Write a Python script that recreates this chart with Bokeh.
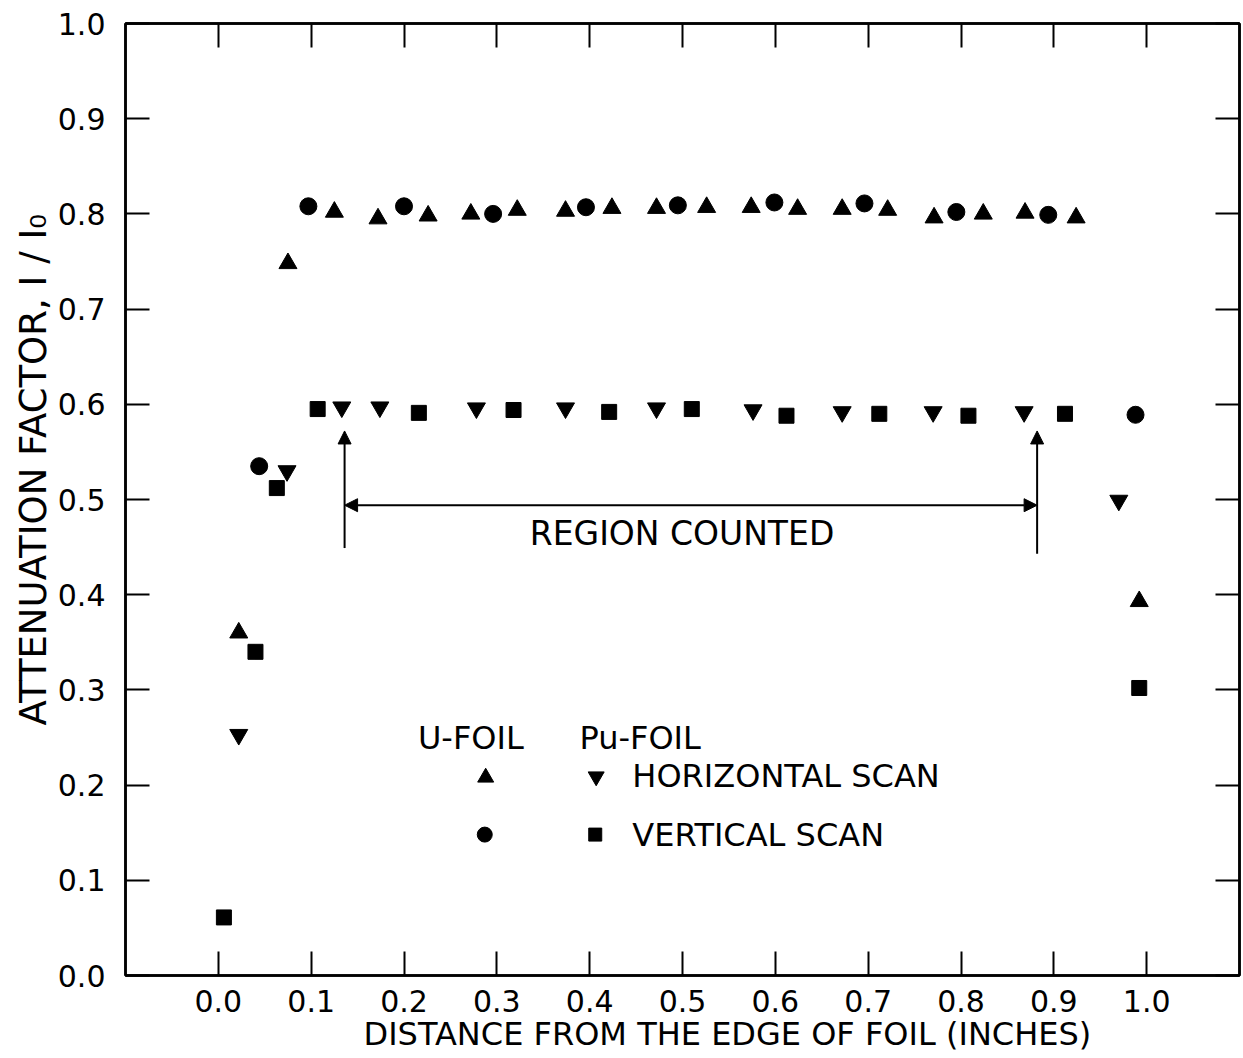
from bokeh.plotting import figure
from bokeh.models import Range1d, LinearAxis, FixedTicker, Label, Arrow, NormalHead, Title
from bokeh.embed import file_html
from bokeh.resources import INLINE

# ---------------- data ----------------
# U-foil, horizontal scan (up triangles)
u_horiz_x = [0.022, 0.075, 0.125, 0.172, 0.226, 0.272, 0.322, 0.374, 0.424, 0.472,
             0.526, 0.574, 0.624, 0.672, 0.721, 0.771, 0.824, 0.869, 0.924, 0.992]
u_horiz_y = [0.360, 0.748, 0.802, 0.795, 0.798, 0.800, 0.804, 0.803, 0.806, 0.806,
             0.807, 0.807, 0.805, 0.805, 0.804, 0.796, 0.800, 0.801, 0.796, 0.393]
# U-foil, vertical scan (circles)
u_vert_x = [0.044, 0.097, 0.200, 0.296, 0.396, 0.495, 0.599, 0.696, 0.795, 0.894, 0.988]
u_vert_y = [0.535, 0.808, 0.808, 0.800, 0.807, 0.809, 0.812, 0.811, 0.802, 0.799, 0.589]
# Pu-foil, horizontal scan (down triangles)
pu_horiz_x = [0.022, 0.074, 0.133, 0.174, 0.278, 0.374, 0.472, 0.576, 0.672, 0.770, 0.868, 0.970]
pu_horiz_y = [0.253, 0.530, 0.597, 0.597, 0.596, 0.596, 0.596, 0.594, 0.592, 0.592, 0.592, 0.499]
# Pu-foil, vertical scan (squares)
pu_vert_x = [0.006, 0.040, 0.063, 0.107, 0.216, 0.318, 0.421, 0.510, 0.612, 0.712, 0.808, 0.912, 0.992]
pu_vert_y = [0.061, 0.340, 0.512, 0.595, 0.591, 0.594, 0.592, 0.595, 0.588, 0.590, 0.588, 0.590, 0.302]

x_ticks = [0.0, 0.1, 0.2, 0.3, 0.4, 0.5, 0.6, 0.7, 0.8, 0.9, 1.0]
x_tick_labels = ["0.0", "0.1", "0.2", "0.3", "0.4", "0.5", "0.6", "0.7", "0.8", "0.9", "1.0"]
y_ticks = [0.0, 0.1, 0.2, 0.3, 0.4, 0.5, 0.6, 0.7, 0.8, 0.9, 1.0]
y_tick_labels = ["0.0", "0.1", "0.2", "0.3", "0.4", "0.5", "0.6", "0.7", "0.8", "0.9", "1.0"]

x_title = "DISTANCE FROM THE EDGE OF FOIL (INCHES)"
y_title = "ATTENUATION FACTOR, I / I\u2080"

region_left = 0.136
region_right = 0.882

FONT = "DejaVu Sans"

p = figure(width=1243, height=1056,
           x_range=Range1d(-0.1, 1.1), y_range=Range1d(0.0, 1.0),
           output_backend="svg", toolbar_location=None,
           min_border_left=125, min_border_right=4, min_border_top=23, min_border_bottom=81)
p.grid.visible = False
p.outline_line_color = "black"
p.outline_line_width = 2.5
p.background_fill_color = "white"
p.border_fill_color = "white"


def style_axis(ax, ticks, labels=None, show_labels=True):
    ax.ticker = FixedTicker(ticks=ticks)
    ax.major_tick_in = 24
    ax.major_tick_out = 0
    ax.minor_tick_line_color = None
    ax.major_tick_line_color = "black"
    ax.major_tick_line_width = 2
    ax.axis_line_color = "black"
    ax.axis_line_width = 2.5
    if labels is not None:
        ax.major_label_overrides = {t: l for t, l in zip(ticks, labels)}
    ax.major_label_text_font = FONT
    ax.major_label_text_color = "black"
    if not show_labels:
        ax.major_label_text_color = None
        ax.major_label_text_font_size = "1px"
        ax.major_label_standoff = 0


xa = p.xaxis[0]
style_axis(xa, x_ticks, x_tick_labels)
xa.major_label_text_font_size = "30px"
xa.major_label_standoff = 14

ya = p.yaxis[0]
style_axis(ya, y_ticks, y_tick_labels)
ya.major_label_text_font_size = "30px"
ya.major_label_standoff = 20

top = LinearAxis()
style_axis(top, x_ticks, show_labels=False)
p.add_layout(top, "above")
right = LinearAxis()
style_axis(right, y_ticks, show_labels=False)
p.add_layout(right, "right")

# ---------------- axis titles (offset like the original lettering) ----------------
p.add_layout(Title(text=x_title, align="left", offset=238, standoff=0,
                   text_font=FONT, text_font_size="32px", text_font_style="normal",
                   text_color="black", vertical_align="top"), "below")
p.add_layout(Title(text=y_title, align="left", offset=250, standoff=0,
                   text_font=FONT, text_font_size="37px", text_font_style="normal",
                   text_color="black"), "left")

# ---------------- data markers ----------------
p.scatter(u_horiz_x, u_horiz_y, marker="triangle", size=18, color="black")
p.scatter(u_vert_x, u_vert_y, marker="circle", size=17, color="black")
p.scatter(pu_horiz_x, pu_horiz_y, marker="inverted_triangle", size=18, color="black")
p.scatter(pu_vert_x, pu_vert_y, marker="square", size=15, color="black")

# ---------------- region counted arrows ----------------
def head():
    return NormalHead(size=13, fill_color="black", line_color="black", line_width=1)

p.add_layout(Arrow(start=None, end=head(), x_start=region_left, y_start=0.449,
                   x_end=region_left, y_end=0.572, line_width=2, line_color="black"))
p.add_layout(Arrow(start=None, end=head(), x_start=region_right, y_start=0.443,
                   x_end=region_right, y_end=0.572, line_width=2, line_color="black"))
p.add_layout(Arrow(start=head(), end=head(), x_start=region_left, y_start=0.494,
                   x_end=region_right, y_end=0.494, line_width=2, line_color="black"))

p.add_layout(Label(x=0.4995, y=0.464, text="REGION COUNTED", text_font=FONT,
                   text_font_size="33px", text_align="center", text_baseline="middle",
                   text_color="black"))

# ---------------- hand-drawn key ----------------
key_texts = [("U-FOIL", 0.215, 0.249), ("Pu-FOIL", 0.389, 0.249),
             ("HORIZONTAL SCAN", 0.446, 0.210), ("VERTICAL SCAN", 0.446, 0.148)]
for t, kx, ky in key_texts:
    p.add_layout(Label(x=kx, y=ky, text=t, text_font=FONT, text_font_size="32px",
                       text_align="left", text_baseline="middle", text_color="black"))

p.scatter([0.288], [0.208], marker="triangle", size=16, color="black")
p.scatter([0.407], [0.209], marker="inverted_triangle", size=16, color="black")
p.scatter([0.287], [0.148], marker="circle", size=15, color="black")
p.scatter([0.406], [0.148], marker="square", size=13, color="black")

open("out.html", "w").write(file_html(p, INLINE))
